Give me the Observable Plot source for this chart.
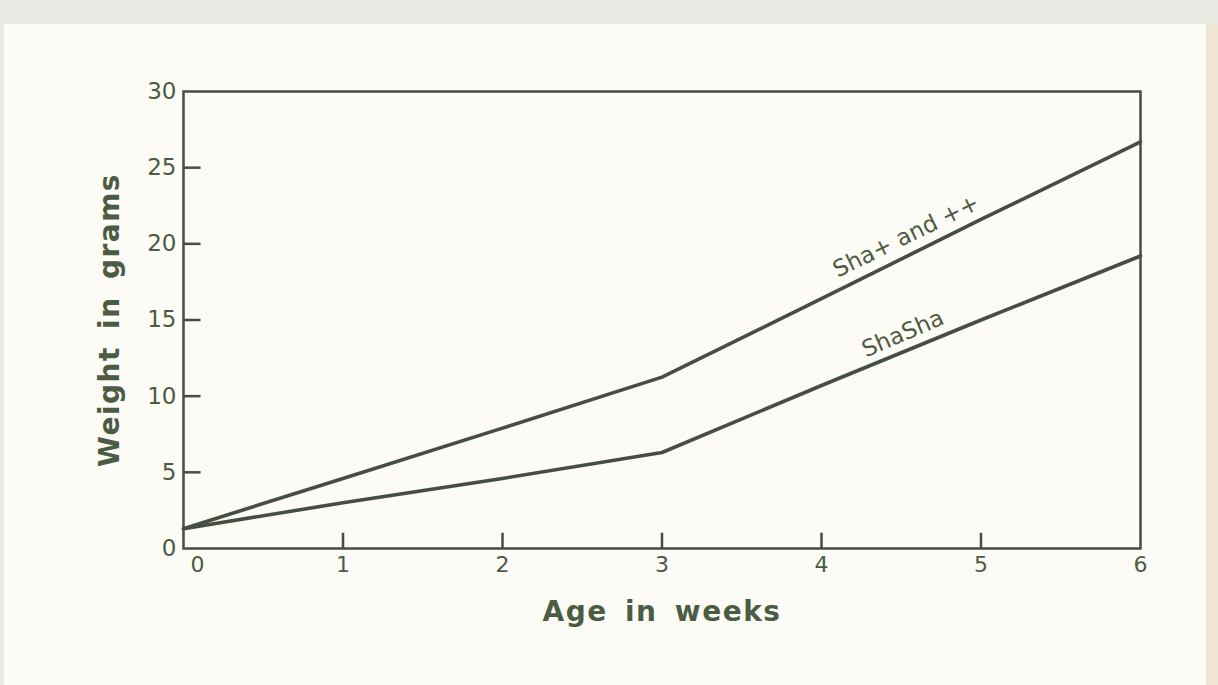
<!DOCTYPE html>
<html>
<head>
<meta charset="utf-8">
<script src="https://cdn.jsdelivr.net/npm/d3@7"></script>
<script src="https://cdn.jsdelivr.net/npm/@observablehq/plot@0.6"></script>
<style>
  html, body { margin: 0; padding: 0; }
  body { width: 1218px; height: 685px; background: #e9e8e2; position: relative; overflow: hidden; }
  #paper { position: absolute; left: 4px; top: 24px; width: 1202px; height: 670px; background: #fcfbf5; }
  #edge { position: absolute; left: 1206px; top: 24px; width: 12px; height: 670px; background: #ece6d2; }
  #chart { position: absolute; left: 0; top: 0; }
</style>
</head>
<body>
<div id="paper"></div>
<div id="edge"></div>
<div id="chart"></div>
<script>
// Data
const weeks = [0, 1, 2, 3, 4, 5, 6];
const shaPlusAndPlusPlus = [1.3, 4.6, 7.9, 11.25, 16.4, 21.6, 26.7];
const shaSha = [1.3, 3.0, 4.6, 6.3, 10.7, 15.0, 19.2];
const seriesNames = ["Sha+ and ++", "ShaSha"];
const xTicksFirst = [0];
const xTicksRest = [1, 2, 3, 4, 5, 6];
const yTicks = [0, 5, 10, 15, 20, 25, 30];
const innerXTicks = [1, 2, 3, 4, 5];
const innerYTicks = [5, 10, 15, 20, 25];

const rows = [
  ...weeks.map((w, i) => ({week: w, weight: shaPlusAndPlusPlus[i], series: seriesNames[0]})),
  ...weeks.map((w, i) => ({week: w, weight: shaSha[i], series: seriesNames[1]}))
];

// label anchors (positions along each curve, in data units)
const upperLabel = [{week: 4.53, weight: 20.5, text: "Sha+ and ++"}];
const lowerLabel = [{week: 4.51, weight: 14.1, text: "ShaSha"}];

const ink = "#454e42";
const textInk = "#4c5b43";

const chart = Plot.plot({
  width: 1218,
  height: 685,
  marginLeft: 183,
  marginRight: 78,
  marginTop: 91,
  marginBottom: 137,
  style: {background: "transparent", color: textInk, fontFamily: "'DejaVu Sans', sans-serif"},
  x: {domain: [0, 6]},
  y: {domain: [0, 30]},
  marks: [
    Plot.frame({stroke: ink, strokeWidth: 2.5}),
    Plot.ruleY(innerYTicks, {x1: 0, x2: 0.11, stroke: ink, strokeWidth: 2.5}),
    Plot.ruleX(innerXTicks, {y1: 0, y2: 1.0, stroke: ink, strokeWidth: 2.5}),
    Plot.axisY(yTicks, {
      tickSize: 0, tickPadding: 7, fontSize: 23, fill: textInk, tickFormat: "d",
      label: "Weight in grams", labelAnchor: "center", labelArrow: "none", labelOffset: 84
    }),
    Plot.axisX(xTicksRest, {
      tickSize: 0, tickPadding: 8, fontSize: 22, fill: textInk, tickFormat: "d",
      label: "Age in weeks", labelAnchor: "center", labelArrow: "none", labelOffset: 72
    }),
    Plot.axisX(xTicksFirst, {
      tickSize: 0, tickPadding: 8, fontSize: 22, fill: textInk, tickFormat: "d", dx: 14, label: null
    }),
    Plot.line(rows, {x: "week", y: "weight", z: "series", stroke: ink, strokeWidth: 3.6, strokeLinejoin: "round"}),
    Plot.text(upperLabel, {
      x: "week", y: "weight", text: "text", rotate: -26,
      fontSize: 23, fill: textInk, textAnchor: "middle", letterSpacing: 3, wordSpacing: 5
    }),
    Plot.text(lowerLabel, {
      x: "week", y: "weight", text: "text", rotate: -23,
      fontSize: 23, fill: textInk, textAnchor: "middle", letterSpacing: 3
    })
  ]
});

// style axis titles
d3.select(chart).selectAll("[aria-label='y-axis label'] text, [aria-label='x-axis label'] text")
  .attr("font-size", 28).attr("font-weight", "bold").attr("letter-spacing", 1.5).attr("word-spacing", 6)
  .attr("fill", textInk);

document.getElementById("chart").appendChild(chart);
</script>
</body>
</html>
